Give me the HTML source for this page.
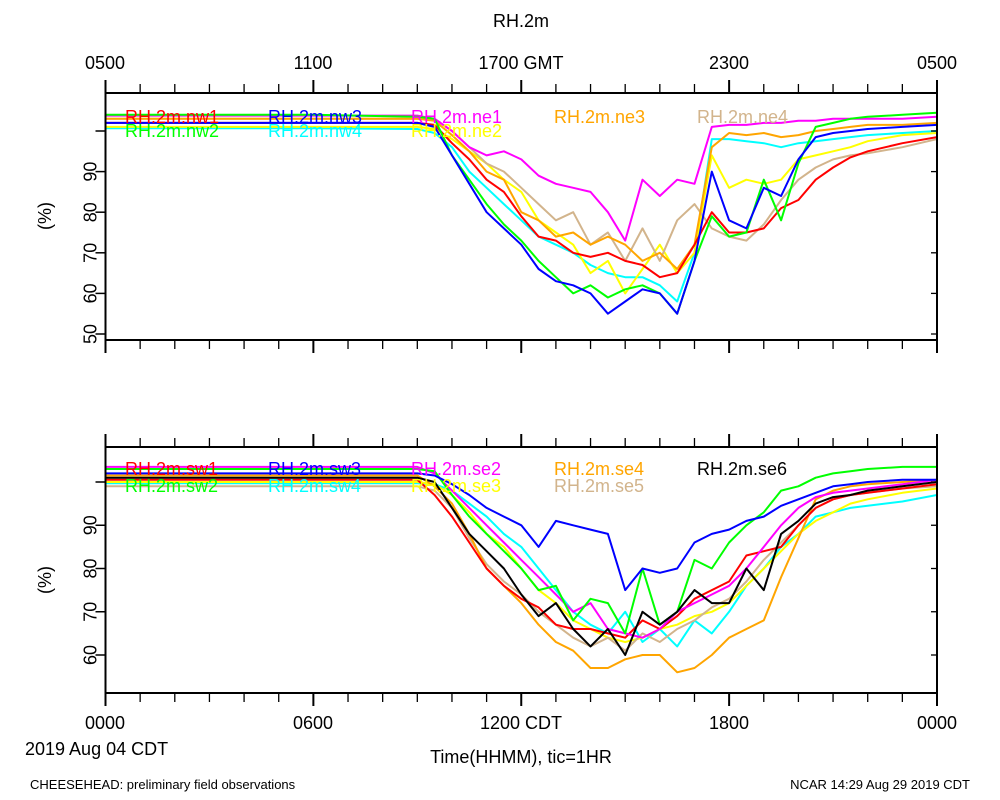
<!DOCTYPE html>
<html><head><meta charset="utf-8"><style>
body{margin:0;background:#fff;}
svg{display:block;font-family:"Liberation Sans",sans-serif;}
</style></head><body>
<svg id="chart" width="1000" height="800" viewBox="0 0 1000 800" xmlns="http://www.w3.org/2000/svg">
<text x="521" y="27" font-size="18" text-anchor="middle">RH.2m</text>
<g font-size="18" text-anchor="middle">
<text x="105" y="69">0500</text><text x="313" y="69">1100</text><text x="521" y="69">1700 GMT</text><text x="729" y="69">2300</text><text x="937" y="69">0500</text>
</g>
<g font-size="18" text-anchor="middle">
<text x="105" y="729">0000</text><text x="313" y="729">0600</text><text x="521" y="729">1200 CDT</text><text x="729" y="729">1800</text><text x="937" y="729">0000</text>
</g>
<text x="25" y="755" font-size="18">2019 Aug 04 CDT</text>
<text x="521" y="763" font-size="18" text-anchor="middle">Time(HHMM), tic=1HR</text>
<text x="30" y="789" font-size="13">CHEESEHEAD: preliminary field observations</text>
<text x="970" y="789" font-size="13" text-anchor="end">NCAR 14:29 Aug 29 2019 CDT</text>
<text transform="translate(51,216) rotate(-90)" font-size="18" text-anchor="middle">(%)</text>
<text transform="translate(51,580) rotate(-90)" font-size="18" text-anchor="middle">(%)</text>
</svg>
<script>
const T=[0,3,6,9,9.5,10,10.5,11,11.5,12,12.5,13,13.5,14,14.5,15,15.5,16,16.5,17,17.5,18,18.5,19,19.5,20,20.5,21,21.5,22,23,24];
// top panel series
const nw1=[102,102,102,102,101.5,97,93,88,85,79,74,73,70,69,70,68,67,64,65,72,80,75,75,76,81,83,88,91,93.5,95,97,98.5];
const nw2=[104,104,104,103.5,103,94,88,82,77,73,68,64,60,62,59,61,62,60,55,68,79,74,75,88,78,92,101,102,103,103.5,104,104.5];
const nw3=[102,102,102,102,101,94,87,80,76,72,66,63,62,60,55,58,61,60,55,68,90,78,76,86,84,93,98.5,99.5,100,100.5,101,101.5];
const nw4=[100.7,100.7,100.7,100.5,99.5,96,90,86,82,78,74,72,70,67,65,64,64,62,58,70,98,98,97.5,97,96,97,97.5,98,98.5,99,99.5,100];
const ne1=[103.8,103.8,103.8,103.8,103,100,96,94,95,93,89,87,86,85,80,73,88,84,88,87,101,101.5,101.5,102,102,102.5,102.5,103,103,103,103,103.5];
const ne2=[101,101,101,101,100.5,98,95,92,88,85,78,75,72,65,68,60,66,72,65,70,94,86,88,87,88,93,94,95,96,97.5,99,99.5];
const ne3=[103,103,103,103,102.5,99,95,90,88,80,78,74,75,72,74,72,68,70,66,72,96,99.5,99,99.5,98.5,99,100,100.5,101,101.5,101.5,102];
const ne4=[103,103,103,103,103,100,96,92,90,86,82,78,80,72,75,68,76,68,78,82,76,74,73,77,83,88,91,93,94,94.5,96,98];
// bottom panel series
const sw1=[100.5,100.5,100.5,100.5,97,92,86,80,76,73,71,67,66,66,65,64,68,66,69,73,75,77,83,84,85,90,94,96,97,97.5,98.5,99.5];
const sw2=[103,103,103,103,102.5,97,92,88,84,80,75,76,68,73,72,65,80,67,70,82,80,86,90,93,98,99,101,102,102.5,103,103.5,103.5];
const sw3=[102,102,102,102,101.5,99.5,97,94,92,90,85,91,90,89,88,75,80,79,80,86,88,89,91,92,94.5,96,97.5,99,99.5,100,100.5,100.5];
const sw4=[99.7,99.7,99.7,99.7,99.5,98,95,92,88,85,80,75,70,67,65,70,63,66,62,68,65,70,76,80,85,88,92,93,94,94.5,95.5,97];
const se2=[103.5,103.5,103.5,103.5,102,98,94,90,86,82,78,74,70,72,66,65,64,66,70,72,74,76,80,85,90,94,96.5,97.5,98,98.5,99.5,100.5];
const se3=[100,100,100,100,99.5,97,93,88,85,80,75,72,68,66,64,63,64,66,67,69,70,72,76,80,84,88,91,93,95,96,97.5,98.5];
const se4=[101.5,101.5,101.5,101.5,99,95,88,80,76,72,67,63,61,57,57,59,60,60,56,57,60,64,66,68,78,87,96,98,99,99.5,100,100.5];
const se5=[99,99,99,99,98,94,87,81,77,74,70,67,64,62,64,61,65,63,66,68,71,73,77,82,86,90,94,96,97,97.5,98.5,99];
const se6=[101,101,101,101,100,94,88,84,80,74,69,72,66,62,66,60,70,67,70,75,72,72,80,75,88,91,95,96.5,97,98,99,100];

const svg=document.getElementById('chart');
const NS='http://www.w3.org/2000/svg';
const X0=105.5,X1=937;
const xs=h=>X0+(X1-X0)*h/24;
function mk(tag,attrs,parent){const e=document.createElementNS(NS,tag);for(const k in attrs)e.setAttribute(k,attrs[k]);(parent||svg).appendChild(e);return e;}

function panel(name,top,bot,y100,y60,ticks,series){
  const ys=v=>y100+(v-100)*(y100-y60)/40;
  const g=mk('g',{});
  
  
  const clipId=name+'-clip';
  const cp=mk('clipPath',{id:clipId},g);
  mk('rect',{x:X0,y:top,width:X1-X0,height:bot-top},cp);
  const lg=mk('g',{'clip-path':'url(#'+clipId+')'},g);
  series.forEach(s=>{
    const p=mk('polyline',{points:T.map((t,i)=>xs(t).toFixed(1)+','+ys(s.d[i]).toFixed(1)).join(' '),fill:'none',stroke:s.c,'stroke-width':2,'stroke-linejoin':'round'},lg);
    
    
  });
  series.forEach((s,i)=>{
    const t=mk('text',{x:s.lx,y:s.ly,fill:s.c,'font-size':18},g);
    t.textContent='RH.2m.'+s.n;
    
    
  });
  const frame=mk('rect',{x:X0,y:top,width:X1-X0,height:bot-top,fill:'none',stroke:'#000','stroke-width':2},g);
  
  
  for(let h=0;h<=24;h++){
    const x=xs(h),L=(h%6===0)?13:9;
    mk('line',{x1:x,y1:top,x2:x,y2:top-L,stroke:'#000','stroke-width':(h%6===0)?2:1.3},g);
    mk('line',{x1:x,y1:bot,x2:x,y2:bot+L,stroke:'#000','stroke-width':(h%6===0)?2:1.3},g);
  }
  ticks.forEach(v=>{
    const y=ys(v);
    if(y>bot+1)return;
    mk('line',{x1:X0,y1:y,x2:X0-10,y2:y,stroke:'#000','stroke-width':1.5},g);
    mk('line',{x1:X1,y1:y,x2:X1-6,y2:y,stroke:'#000','stroke-width':1.3},g);
    if(v<100){
      const t=mk('text',{transform:'translate('+(X0-9)+','+y+') rotate(-90)','font-size':18,'text-anchor':'middle'},g);
      t.textContent=v;
      
      
    }
  });
}
const R1=117,R2=134;
panel('top-panel',93,340,131,293.4,[50,60,70,80,90,100],[
 {n:'nw4',d:nw4,c:'#00ffff',lx:268,ly:R2+3},
 {n:'ne2',d:ne2,c:'#ffff00',lx:411,ly:R2+3},
 {n:'ne4',d:ne4,c:'#d2b48c',lx:697,ly:R1+6},
 {n:'ne3',d:ne3,c:'#ffa500',lx:554,ly:R1+6},
 {n:'nw1',d:nw1,c:'#ff0000',lx:125,ly:R1+6},
 {n:'ne1',d:ne1,c:'#ff00ff',lx:411,ly:R1+6},
 {n:'nw2',d:nw2,c:'#00ff00',lx:125,ly:R2+3},
 {n:'nw3',d:nw3,c:'#0000ff',lx:268,ly:R1+6}
]);
panel('bottom-panel',447,693,482,655,[60,70,80,90,100],[
 {n:'sw4',d:sw4,c:'#00ffff',lx:268,ly:492},
 {n:'se3',d:se3,c:'#ffff00',lx:411,ly:492},
 {n:'se5',d:se5,c:'#d2b48c',lx:554,ly:492},
 {n:'se4',d:se4,c:'#ffa500',lx:554,ly:475},
 {n:'sw1',d:sw1,c:'#ff0000',lx:125,ly:475},
 {n:'se2',d:se2,c:'#ff00ff',lx:411,ly:475},
 {n:'sw2',d:sw2,c:'#00ff00',lx:125,ly:492},
 {n:'sw3',d:sw3,c:'#0000ff',lx:268,ly:475},
 {n:'se6',d:se6,c:'#000000',lx:697,ly:475}
]);
</script>
</body></html>
